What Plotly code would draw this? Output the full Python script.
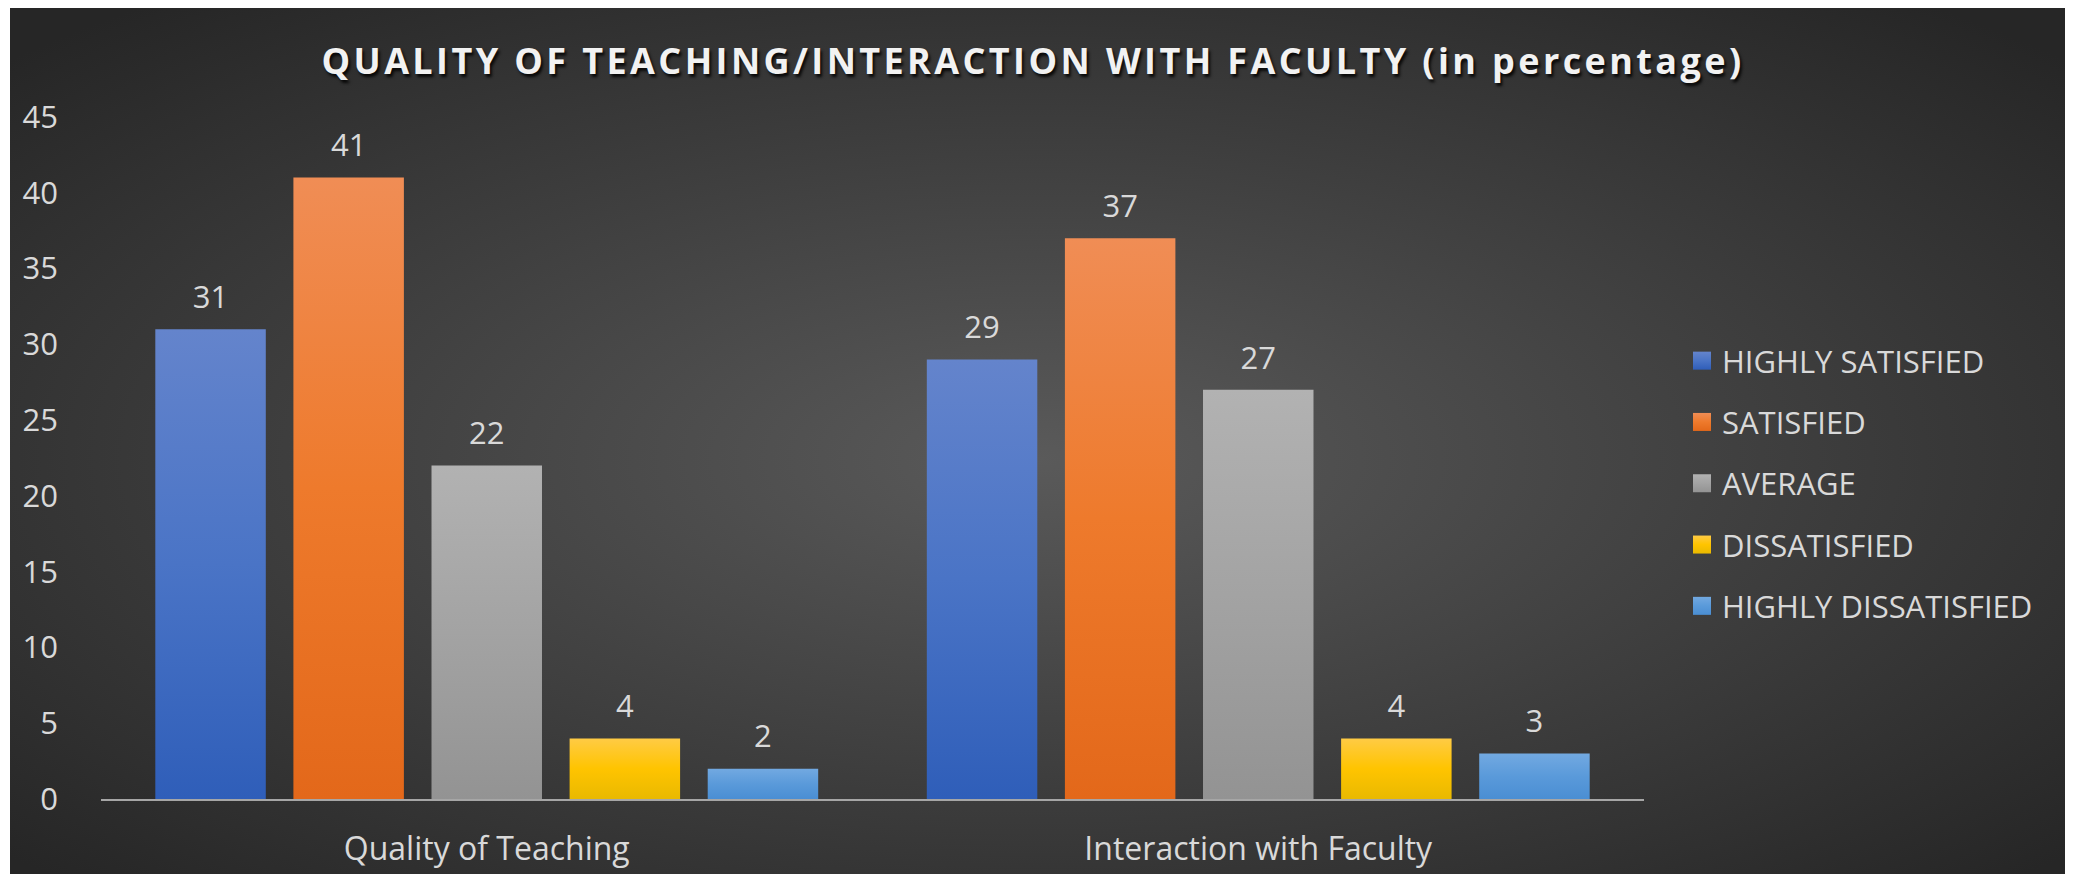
import base64
import json
import plotly.graph_objects as go

# ---------------- data ----------------
categories = ["Quality of Teaching", "Interaction with Faculty"]
series_names = ["HIGHLY SATISFIED", "SATISFIED", "AVERAGE", "DISSATISFIED", "HIGHLY DISSATISFIED"]
highly_satisfied = [31, 29]
satisfied = [41, 37]
average = [22, 27]
dissatisfied = [4, 4]
highly_dissatisfied = [2, 3]
y_tick_values = [0, 5, 10, 15, 20, 25, 30, 35, 40, 45]
title_text = "QUALITY OF TEACHING/INTERACTION WITH FACULTY (in percentage)"

series_values = [highly_satisfied, satisfied, average, dissatisfied, highly_dissatisfied]
colors = ["#4A74C6", "#EE7A2C", "#A3A3A3", "#FCC40C", "#5A9ADA"]
# vertical gradient stops (top -> bottom) used for the Excel-like bar fill
gradient_stops = [
    ["#6484CC", "#4A74C6", "#2F5EB9"],
    ["#F08D55", "#EE7A2C", "#E3681A"],
    ["#B2B2B2", "#A3A3A3", "#939393"],
    ["#FFCB45", "#FFC400", "#E9B900"],
    ["#72A9E1", "#5A9ADA", "#4A8ED3"],
]

# ---------------- layout geometry (figure pixels) ----------------
W, H = 2057, 866
ML, MR, MT, MB = 93, 421, 109, 75
PW, PH = W - ML - MR, H - MT - MB


def px_to_paper_x(px):
    return (px - ML) / PW


def px_to_paper_y(py):
    return (H - MB - py) / PH


FONT = "'Open Sans', Lato, sans-serif"
TXT = "#D9D9D9"

fig = go.Figure()

for name, vals, col in zip(series_names, series_values, colors):
    fig.add_trace(go.Bar(
        x=categories, y=vals, name=name, legendgroup=name,
        marker=dict(color=col, line=dict(width=0)),
        hoverinfo="x+y+name",
    ))

for name, vals in zip(series_names, series_values):
    fig.add_trace(go.Scatter(
        x=categories, y=vals, mode="markers+text",
        text=[str(v) for v in vals], textposition="top center",
        textfont=dict(family=FONT, size=31, color=TXT),
        marker=dict(size=20, opacity=0),
        showlegend=False, hoverinfo="skip", cliponaxis=False,
        legendgroup=name,
    ))

# radial gradient background as svg image
svg = f"""<svg xmlns='http://www.w3.org/2000/svg' width='{W-2}' height='{H}' viewBox='0 0 {W-2} {H}' preserveAspectRatio='none'>
<defs><radialGradient id='g' cx='50%' cy='52%' r='68%'>
<stop offset='0%' stop-color='#5A5A5A'/>
<stop offset='100%' stop-color='#262626'/>
</radialGradient></defs>
<rect x='0' y='0' width='{W-2}' height='{H}' fill='url(#g)'/></svg>"""
src = "data:image/svg+xml;base64," + base64.b64encode(svg.encode()).decode()

fig.update_layout(
    width=W, height=H,
    margin=dict(l=ML, r=MR, t=MT, b=MB, pad=0, autoexpand=False),
    paper_bgcolor="#FFFFFF",
    plot_bgcolor="rgba(0,0,0,0)",
    barmode="group", bargap=0.105, bargroupgap=0.2,
    scattermode="group",
    font=dict(family=FONT, size=31, color=TXT),
    title=dict(
        text=title_text, xref="container", yref="container",
        x=1025 / W, xanchor="center", y=1 - 53 / H, yanchor="middle",
        font=dict(family=FONT, size=36, color="#F2F2F2", weight=700,
                  shadow="2px 3px 3px rgba(0,0,0,0.85)"),
    ),
    images=[dict(
        source=src, xref="paper", yref="paper",
        x=px_to_paper_x(2), y=px_to_paper_y(0),
        sizex=(W - 2) / PW, sizey=H / PH,
        xanchor="left", yanchor="top", sizing="stretch", layer="below",
    )],
    xaxis=dict(
        showgrid=False, zeroline=False, showline=True,
        linecolor="#A6A6A6", linewidth=2, ticks="",
        tickfont=dict(family=FONT, size=32, color=TXT),
        ticklabelstandoff=21, automargin=False,
    ),
    yaxis=dict(
        range=[0, 45], tickvals=y_tick_values, showgrid=False, zeroline=False,
        showline=False, ticks="",
        tickfont=dict(family=FONT, size=31, color=TXT),
        ticklabelstandoff=42, automargin=False,
    ),
    legend=dict(
        x=px_to_paper_x(1674), xanchor="left",
        y=px_to_paper_y(326), yanchor="top",
        font=dict(family=FONT, size=31, color=TXT),
        bgcolor="rgba(0,0,0,0)", tracegroupgap=18,
        traceorder="grouped",
    ),
    showlegend=True,
)

# Excel-style finishing: title character spacing, gradient bar fills, larger legend swatches
post = """
(function(){
  var gd = document.querySelector('.js-plotly-plot');
  if (!gd) return;
  gd.querySelectorAll('.gtitle').forEach(function(el){ el.style.letterSpacing = '3.4px'; });
  var ns = 'http://www.w3.org/2000/svg';
  var svg = gd.querySelector('svg.main-svg');
  var defs = svg.querySelector('defs');
  if (!defs) { defs = document.createElementNS(ns, 'defs'); svg.insertBefore(defs, svg.firstChild); }
  var grads = GRADS;
  grads.forEach(function(st, i){
    var lg = document.createElementNS(ns, 'linearGradient');
    lg.setAttribute('id', 'xlbar' + i);
    lg.setAttribute('x1', '0'); lg.setAttribute('y1', '0');
    lg.setAttribute('x2', '0'); lg.setAttribute('y2', '1');
    st.forEach(function(c, k){
      var s = document.createElementNS(ns, 'stop');
      s.setAttribute('offset', (k / (st.length - 1) * 100) + '%');
      s.setAttribute('stop-color', c);
      lg.appendChild(s);
    });
    defs.appendChild(lg);
  });
  var bars = gd.querySelectorAll('.barlayer .trace.bars');
  bars.forEach(function(t, i){
    if (i >= grads.length) return;
    t.querySelectorAll('path').forEach(function(p){ p.style.fill = 'url(#xlbar' + i + ')'; });
  });
  var items = gd.querySelectorAll('.legend .traces');
  items.forEach(function(t, i){
    if (i >= grads.length) return;
    t.querySelectorAll('.legendpoints path').forEach(function(p){
      p.setAttribute('d', 'M9,9H-9V-9H9Z');
      p.style.fill = 'url(#xlbar' + i + ')';
    });
  });
})();
""".replace("GRADS", json.dumps(gradient_stops))

fig.write_html("out.html", post_script=post)
